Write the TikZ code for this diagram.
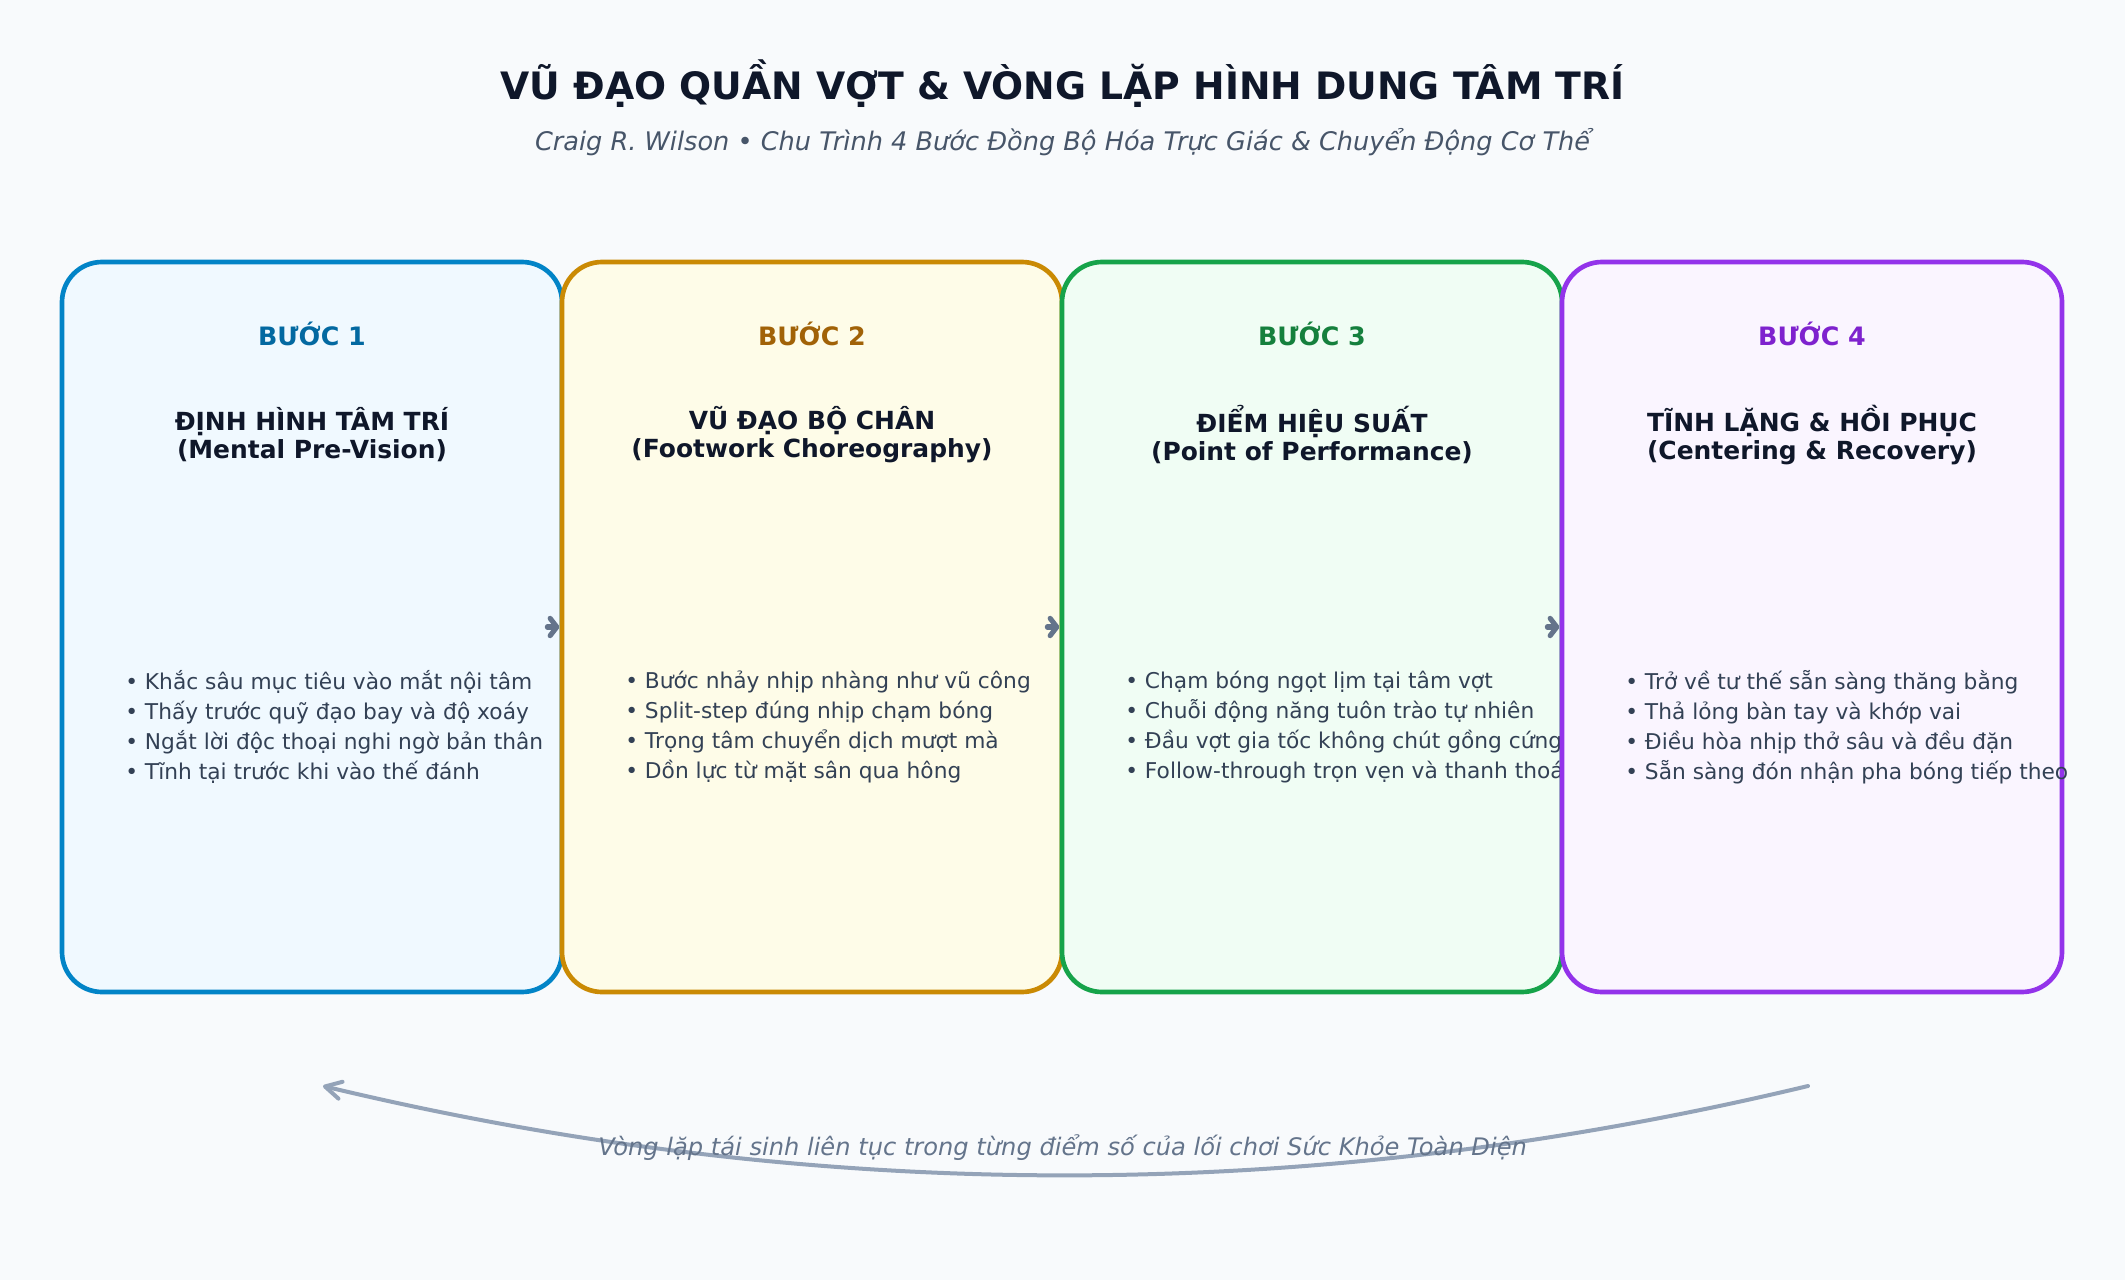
\documentclass[tikz,border=0pt]{standalone}
\usepackage{fontspec}
\setmainfont{DejaVu Sans}
\usetikzlibrary{arrows.meta}
\definecolor{bgpage}{HTML}{F8FAFC}
\definecolor{ink}{HTML}{0F172A}
\definecolor{subink}{HTML}{475569}
\definecolor{bodyink}{HTML}{334155}
\definecolor{linkgray}{HTML}{64748B}
\definecolor{loopgray}{HTML}{94A3B8}
\definecolor{oneline}{HTML}{0284C7}
\definecolor{onefill}{HTML}{F0F9FF}
\definecolor{onetext}{HTML}{0369A1}
\definecolor{twoline}{HTML}{CA8A04}
\definecolor{twofill}{HTML}{FEFCE8}
\definecolor{twotext}{HTML}{A16207}
\definecolor{threeline}{HTML}{16A34A}
\definecolor{threefill}{HTML}{F0FDF4}
\definecolor{threetext}{HTML}{15803D}
\definecolor{fourline}{HTML}{9333EA}
\definecolor{fourfill}{HTML}{FAF5FF}
\definecolor{fourtext}{HTML}{7E22CE}
\begin{document}
\begin{tikzpicture}[x=0.75pt,y=-0.75pt,
    stepbox/.style={rounded corners=30pt,line width=3.5pt,minimum width=375pt,minimum height=547.5pt,outer sep=0pt},
    steplabel/.style={font=\bfseries\fontsize{19}{22}\selectfont},
    steptitle/.style={font=\bfseries\fontsize{18.7}{21}\selectfont,text=ink,align=center},
    steplist/.style={font=\fontsize{16.3}{22.5}\selectfont,text=bodyink,align=left,anchor=west,inner sep=0pt},
    link/.style={-{Straight Barb[round,length=5pt,width=13pt]},line width=3.8pt,draw=linkgray,line cap=round},
    cyclearc/.style={-{Straight Barb[round,length=12pt,width=13pt]},line width=3pt,draw=loopgray,line cap=round}]
\useasboundingbox (0,0) rectangle (2125,1280);
\fill[bgpage] (0,0) rectangle (2125,1280);
\node[font=\bfseries\fontsize{28.3}{34}\selectfont,text=ink] (title) at (1062.5,84) {VŨ ĐẠO QUẦN VỢT \& VÒNG LẶP HÌNH DUNG TÂM TRÍ};
\node[font=\itshape\fontsize{19.2}{23}\selectfont,text=subink] (subtitle) at (1062.5,142) {Craig R. Wilson • Chu Trình 4 Bước Đồng Bộ Hóa Trực Giác \& Chuyển Động Cơ Thể};
\begin{scope}
\node[stepbox,draw=oneline,fill=onefill] (b1) at (312,627) {};
\node[steplabel,text=onetext] (l1) at (312,334) {BƯỚC 1};
\node[steptitle] (t1) at (312,435) {ĐỊNH HÌNH TÂM TRÍ\\(Mental Pre-Vision)};
\node[steplist] (p1) at (125,727) {• Khắc sâu mục tiêu vào mắt nội tâm\\• Thấy trước quỹ đạo bay và độ xoáy\\• Ngắt lời độc thoại nghi ngờ bản thân\\• Tĩnh tại trước khi vào thế đánh};
\end{scope}
\begin{scope}[xshift=375pt]
\node[stepbox,draw=twoline,fill=twofill] (b2) at (312,627) {};
\node[steplabel,text=twotext] (l2) at (312,334) {BƯỚC 2};
\node[steptitle] (t2) at (312,435) {VŨ ĐẠO BỘ CHÂN\\(Footwork Choreography)};
\node[steplist] (p2) at (125,727) {• Bước nhảy nhịp nhàng như vũ công\\• Split-step đúng nhịp chạm bóng\\• Trọng tâm chuyển dịch mượt mà\\• Dồn lực từ mặt sân qua hông};
\end{scope}
\begin{scope}[xshift=750pt]
\node[stepbox,draw=threeline,fill=threefill] (b3) at (312,627) {};
\node[steplabel,text=threetext] (l3) at (312,334) {BƯỚC 3};
\node[steptitle] (t3) at (312,435) {ĐIỂM HIỆU SUẤT\\(Point of Performance)};
\node[steplist] (p3) at (125,727) {• Chạm bóng ngọt lịm tại tâm vợt\\• Chuỗi động năng tuôn trào tự nhiên\\• Đầu vợt gia tốc không chút gồng cứng\\• Follow-through trọn vẹn và thanh thoát};
\end{scope}
\begin{scope}[xshift=1125pt]
\node[stepbox,draw=fourline,fill=fourfill] (b4) at (312,627) {};
\node[steplabel,text=fourtext] (l4) at (312,334) {BƯỚC 4};
\node[steptitle] (t4) at (312,435) {TĨNH LẶNG \& HỒI PHỤC\\(Centering \& Recovery)};
\node[steplist] (p4) at (125,727) {• Trở về tư thế sẵn sàng thăng bằng\\• Thả lỏng bàn tay và khớp vai\\• Điều hòa nhịp thở sâu và đều đặn\\• Sẵn sàng đón nhận pha bóng tiếp theo};
\end{scope}
\draw[link] ([xshift=-11pt]b1.east) -- ([xshift=-2pt]b2.west);
\draw[link] ([xshift=-11pt]b2.east) -- ([xshift=-2pt]b3.west);
\draw[link] ([xshift=-11pt]b3.east) -- ([xshift=-2pt]b4.west);
\coordinate (loopstart) at (1808,1086);
\coordinate (loopend) at (323,1086);
\draw[cyclearc] (loopstart) .. controls (1312,1205) and (819,1205) .. (loopend);
\node[font=\itshape\fontsize{18.1}{22}\selectfont,text=linkgray] (caption) at (1062.5,1148) {Vòng lặp tái sinh liên tục trong từng điểm số của lối chơi Sức Khỏe Toàn Diện};
\end{tikzpicture}
\end{document}
